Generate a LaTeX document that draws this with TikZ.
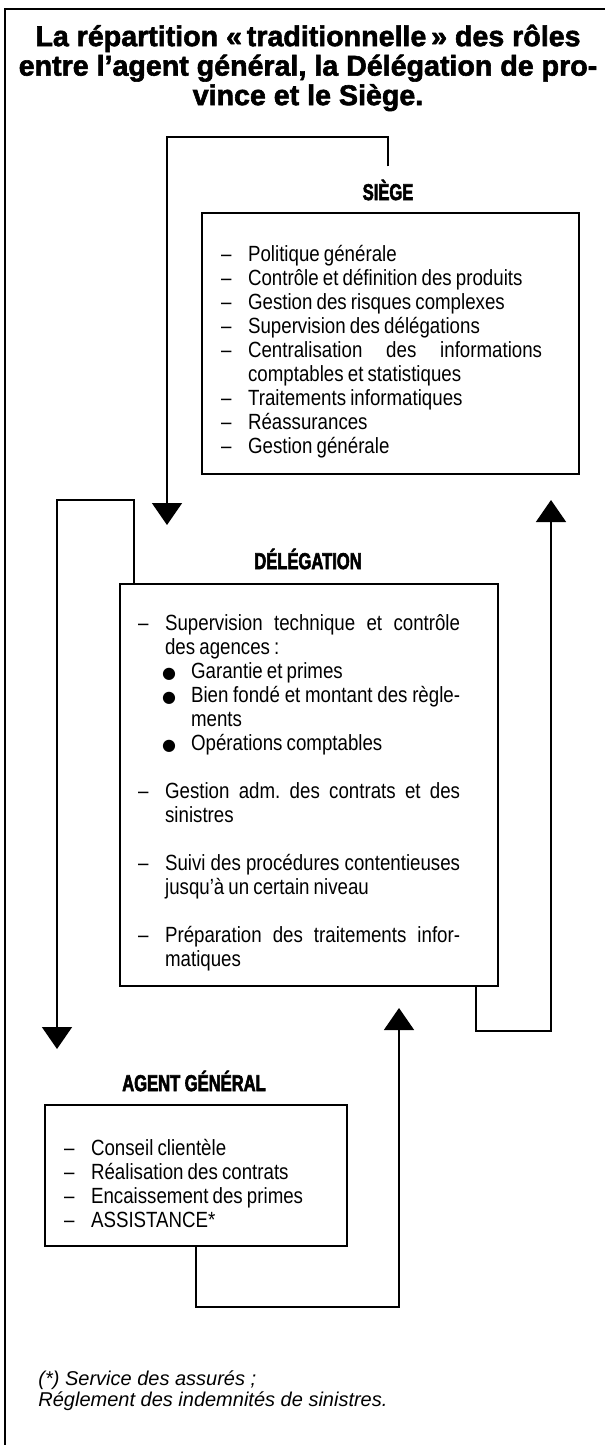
\documentclass[tikz,border=0pt]{standalone}
\usepackage{fontspec}
\setmainfont{Liberation Sans}
\newfontfamily\policecorps[FakeStretch=0.85,WordSpace=0.8]{Liberation Sans}
\newfontfamily\policerubrique[FakeStretch=0.72,FakeBold=2.5]{Liberation Sans Bold}
\newfontfamily\policetitre[FakeBold=2]{Liberation Sans Bold}
\newfontfamily\symboles{DejaVu Sans}
\usetikzlibrary{arrows.meta}

\newcommand{\gros}{{\symboles\fontsize{8}{8}\selectfont ●}}
\newcommand{\tiret}[1]{\par\hangindent=13.5pt\hangafter=1\noindent\makebox[13.5pt][l]{–}#1}
\newcommand{\puce}[1]{\par\hangindent=26.5pt\hangafter=1\noindent\hspace*{12pt}\makebox[14.5pt][l]{\gros}#1}
\newcommand{\blanc}{\par\vspace{12pt}}

\tikzset{
  rubrique/.style={font=\policerubrique\fontsize{11.5}{12}\selectfont, inner sep=0pt},
  cadre/.style={draw, line width=1.1pt, anchor=north west, inner xsep=9.5pt, inner ysep=0pt,
    align=justify, font=\policecorps\fontsize{11}{12}\selectfont\frenchspacing},
  boucle/.style={line width=0.8pt, -{Triangle[width=15pt,length=11pt]}}
}

\begin{document}
\begin{tikzpicture}[x=0.5pt,y=-0.5pt]
\useasboundingbox (0,0) rectangle (605,1445);
\draw[line width=1pt] (5,1445) -- (5,9) -- (605,9);
\node[font=\policetitre\fontsize{14.3}{14.75}\selectfont, align=center] (titre) at (308,68)
  {La répartition «\,traditionnelle\,» des rôles\\entre l’agent général, la Délégation de pro-\\vince et le Siège.};

\node[rubrique] (lblsiege) at (388,190) {SIÈGE};
\node[cadre, text width=169.5pt, minimum height=130.5pt] (siege) at (201,212) {\vspace*{4pt}\rightskip=9pt
  \tiret{Politique générale}
  \tiret{Contrôle et définition des produits}
  \tiret{Gestion des risques complexes}
  \tiret{Supervision des délégations}
  \tiret{Centralisation des informations\linebreak comptables et statistiques}
  \tiret{Traitements informatiques}
  \tiret{Réassurances}
  \tiret{Gestion générale}\par};

\node[rubrique] (lbldeleg) at (308,559) {DÉLÉGATION};
\node[cadre, inner xsep=9pt, text width=171pt, minimum height=201pt] (deleg) at (119,583) {\vspace*{4pt}\rightskip=10pt
  \tiret{Supervision technique et contrôle\linebreak des agences :}
  \puce{Garantie et primes}
  \puce{Bien fondé et montant des règle-\linebreak ments}
  \puce{Opérations comptables}
  \blanc
  \tiret{Gestion adm. des contrats et des\linebreak sinistres}
  \blanc
  \tiret{Suivi des procédures contentieuses\linebreak jusqu’à un certain niveau}
  \blanc
  \tiret{Préparation des traitements infor-\linebreak matiques}\par};

\node[rubrique] (lblagent) at (194,1081) {AGENT GÉNÉRAL};
\node[cadre, text width=132pt, minimum height=70.5pt] (agent) at (44,1104) {\vspace*{4pt}
  \tiret{Conseil clientèle}
  \tiret{Réalisation des contrats}
  \tiret{Encaissement des primes}
  \tiret{ASSISTANCE*}\par};

\coordinate (coinS) at (167,137);
\coordinate (pointeS) at (167,525);
\coordinate (coinD) at (57,500);
\coordinate (pointeD) at (57,1049);
\coordinate (coinR) at (551,1031);
\coordinate (pointeR) at (551,500);
\coordinate (coinA) at (399,1307);
\coordinate (pointeA) at (399,1008);
\draw[boucle] ([yshift=6.5pt]lblsiege.north) |- (coinS) -- (pointeS);
\draw[boucle] ([xshift=7.5pt]deleg.north west) |- (coinD) -- (pointeD);
\draw[boucle] ([xshift=-11.5pt]deleg.south east) |- (coinR) -- (pointeR);
\draw[boucle] (agent.south) |- (coinA) -- (pointeA);

\node[anchor=north west, inner sep=0pt, align=left, font=\itshape\fontsize{10}{9}\selectfont] (note) at (38,1370)
  {(*) Service des assurés ;\\Réglement des indemnités de sinistres.};
\end{tikzpicture}
\end{document}
